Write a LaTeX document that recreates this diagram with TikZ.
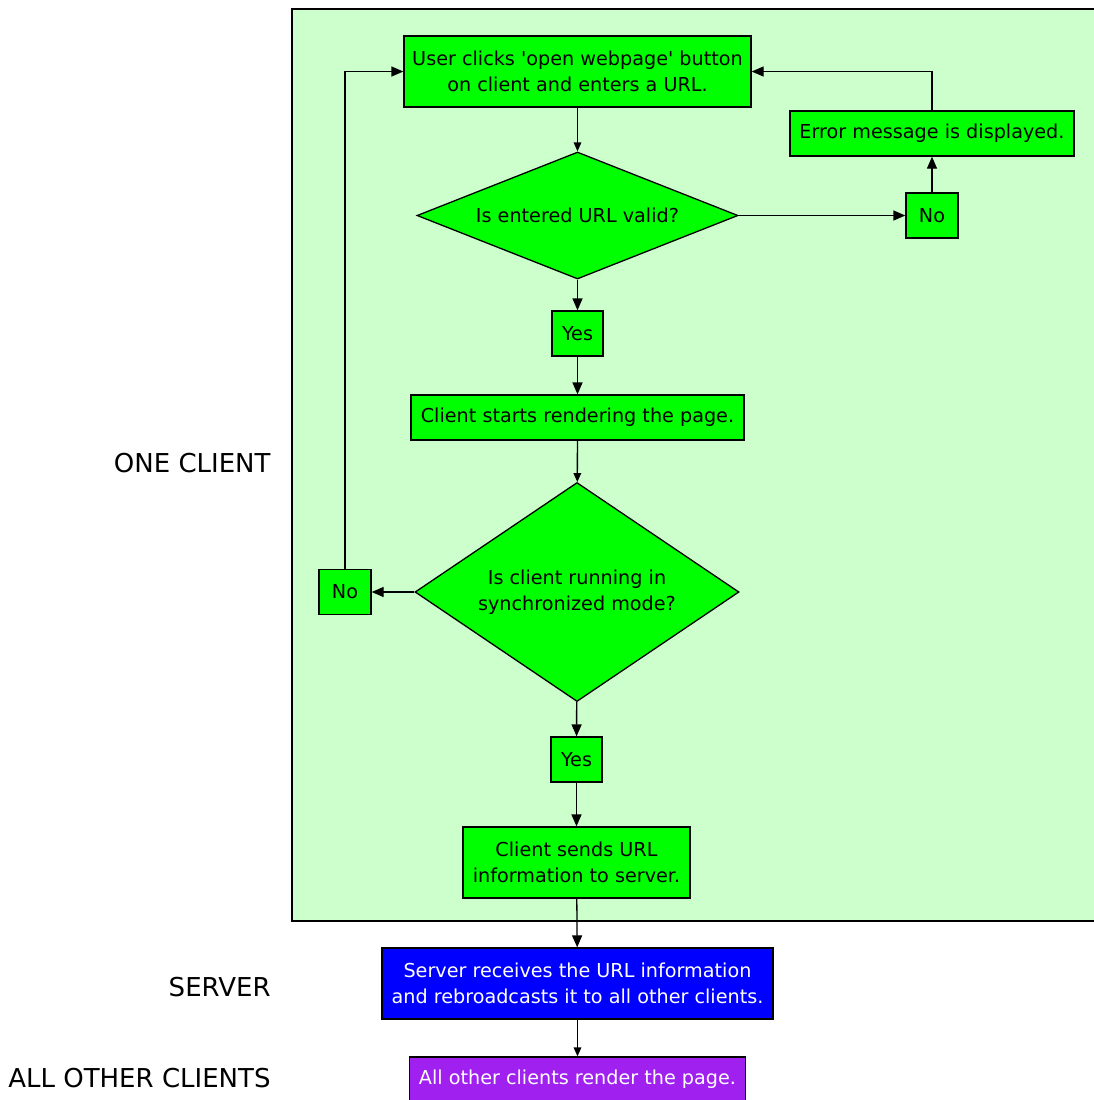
\documentclass[tikz,border=0pt]{standalone}
\usepackage{fontspec}
\setmainfont{DejaVu Sans}
\usetikzlibrary{shapes.geometric}
\usetikzlibrary{arrows.meta}
\definecolor{boxgreen}{HTML}{00FF00}
\definecolor{clustergreen}{HTML}{CCFFCC}
\definecolor{serverblue}{HTML}{0000FF}
\definecolor{otherpurple}{HTML}{A020F0}
\begin{document}
\begin{tikzpicture}[x=0.5pt,y=-0.5pt]
					\tikzstyle{step box}=[draw=black,fill=boxgreen,line width=0.65pt,inner sep=0pt,align=center,font=\fontsize{9.6}{13}\selectfont]
					\tikzstyle{question}=[step box,diamond,aspect=2.5]
					\tikzstyle{lane}=[anchor=east,inner sep=0pt,font=\fontsize{13}{15}\selectfont]
					\tikzstyle{flow}=[line width=0.65pt,-{Triangle[length=6pt,width=5pt]}]
					\tikzstyle{thin flow}=[line width=0.65pt,-{Triangle[length=4.5pt,width=3.8pt]}]
					\useasboundingbox (0,0) rectangle (1094,1100);
					\fill[white] (0,0) rectangle (1094,1100);
					\draw[fill=clustergreen, line width=0.65pt] (292,9) rectangle (1110,921);
					\node (start) [step box, minimum width=173.5pt, minimum height=35.5pt] at (577.5,71.5) {User clicks \textquotesingle open webpage\textquotesingle\ button\\on client and enters a URL.};
					\node (valid) [question, minimum width=160.5pt, minimum height=63.5pt] at (577.5,215.5) {Is entered URL valid?};
					\node (nourl) [step box, minimum width=26pt, minimum height=22.5pt] at (932,215.5) {No};
					\node (errmsg) [step box, minimum width=142pt, minimum height=22.5pt] at (932,133.5) {Error message is displayed.};
					\node (yesurl) [step box, minimum width=25.5pt, minimum height=22.5pt] at (577.5,333.5) {Yes};
					\node (render) [step box, minimum width=166.5pt, minimum height=22.5pt] at (577.5,417.5) {Client starts rendering the page.};
					\node (syncq) [question, minimum width=162pt, minimum height=109.5pt] at (577,592) {Is client running in\\synchronized mode?};
					\node (nosync) [step box, minimum width=26pt, minimum height=22.5pt] at (345,592) {No};
					\node (yessync) [step box, minimum width=25.5pt, minimum height=22.5pt] at (576.5,759.5) {Yes};
					\node (send) [step box, minimum width=113.5pt, minimum height=35.5pt] at (576.5,862.5) {Client sends URL\\information to server.};
					\node (server) [step box, fill=serverblue, text=white, minimum width=195.5pt, minimum height=35.5pt] at (577.5,983.5) {Server receives the URL information\\and rebroadcasts it to all other clients.};
					\node (others) [step box, fill=otherpurple, text=white, minimum width=168pt, minimum height=22.5pt] at (577.5,1079.5) {All other clients render the page.};
					\node (laneclient) [lane] at (271,463.5) {ONE CLIENT};
					\node (laneserver) [lane] at (271,987.5) {SERVER};
					\node (laneothers) [lane] at (271,1078.5) {ALL OTHER CLIENTS};
					\draw[thin flow] (start) -- (valid);
					\draw[flow] (valid) -- (nourl);
					\draw[flow] (nourl) -- (errmsg);
					\draw[flow] (errmsg.north) |- (start.east);
					\draw[flow] (valid) -- (yesurl);
					\draw[flow] (yesurl) -- (render);
					\draw[thin flow] (render) -- (syncq);
					\draw[flow] (syncq) -- (nosync);
					\draw[flow] (nosync.north) |- (start.west);
					\draw[flow] (syncq) -- (yessync);
					\draw[flow] (yessync) -- (send);
					\draw[flow] (send) -- (server);
					\draw[thin flow] (server) -- (others);
				\end{tikzpicture}
\end{document}
